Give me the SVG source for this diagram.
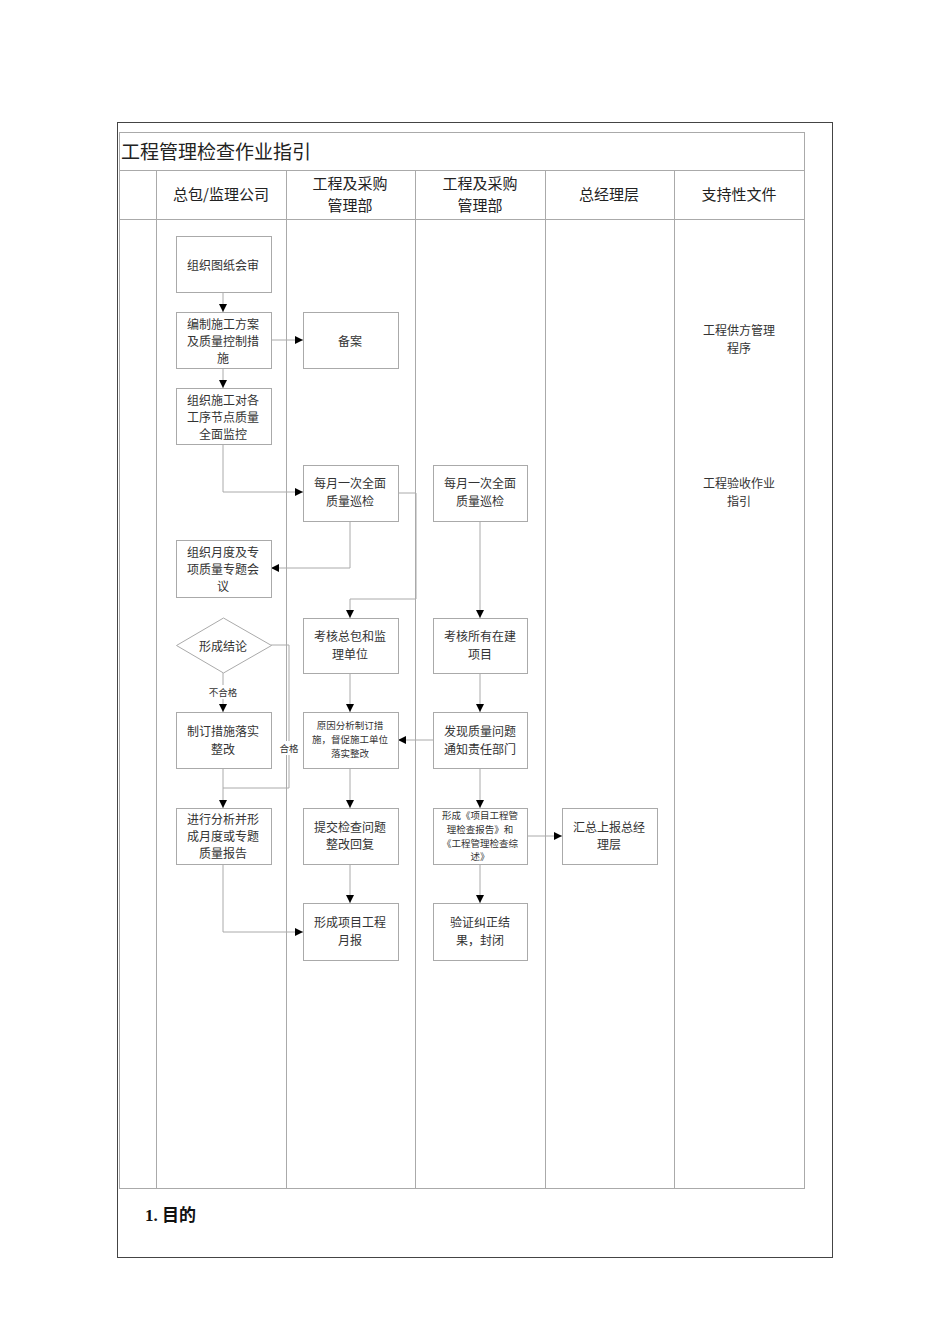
<svg xmlns="http://www.w3.org/2000/svg" width="950" height="1344" viewBox="0 0 950 1344">
<style>
.frame{fill:none;stroke:#444;stroke-width:1}
.grid{fill:none;stroke:#aaa;stroke-width:1}
.box{fill:#fff;stroke:#aaa;stroke-width:1}
.t{font-family:"Noto Sans CJK SC","Noto Sans",sans-serif;font-size:12px;fill:#333;text-anchor:middle;dominant-baseline:central}
.s{font-size:9.5px}
.h{font-family:"Noto Sans CJK SC","Noto Sans",sans-serif;font-size:15px;fill:#222;text-anchor:middle;dominant-baseline:central}
.c{fill:none;stroke:#aaa;stroke-width:1}
</style>
<defs>
<marker id="ah" viewBox="0 0 10 10" refX="10" refY="5" markerWidth="8" markerHeight="8" markerUnits="userSpaceOnUse" orient="auto">
<path d="M0,0 L10,5 L0,10 z" fill="#000"/>
</marker>
</defs>
<rect width="950" height="1344" fill="#fff"/>
<g id="table">
<rect class="frame" x="117.5" y="122.5" width="715" height="1135"/>
<rect class="grid" x="119.5" y="132.5" width="685" height="1056"/>
<line class="grid" x1="119.5" y1="170.5" x2="804.5" y2="170.5"/>
<line class="grid" x1="119.5" y1="219.5" x2="804.5" y2="219.5"/>
<line class="grid" x1="156.5" y1="170.5" x2="156.5" y2="1188.5"/>
<line class="grid" x1="286.5" y1="170.5" x2="286.5" y2="1188.5"/>
<line class="grid" x1="415.5" y1="170.5" x2="415.5" y2="1188.5"/>
<line class="grid" x1="545.5" y1="170.5" x2="545.5" y2="1188.5"/>
<line class="grid" x1="674.5" y1="170.5" x2="674.5" y2="1188.5"/>
<text x="121" y="150" style="font-family:'Noto Sans CJK SC',sans-serif;font-size:19px;fill:#222;dominant-baseline:central">工程管理检查作业指引</text>
<text class="h" x="221" y="193">总包/监理公司</text>
<text class="h" x="350" y="182">工程及采购</text>
<text class="h" x="350" y="204">管理部</text>
<text class="h" x="480" y="182">工程及采购</text>
<text class="h" x="480" y="204">管理部</text>
<text class="h" x="609" y="193">总经理层</text>
<text class="h" x="739" y="193">支持性文件</text>
<text x="145" y="1215" style="font-family:'Liberation Serif','Noto Sans CJK SC',serif;font-size:17px;font-weight:bold;fill:#111;dominant-baseline:central">1. 目的</text>
</g>
<g id="connectors">
<line class="c" x1="223" y1="292" x2="223" y2="312" marker-end="url(#ah)"/>
<line class="c" x1="223" y1="368" x2="223" y2="388" marker-end="url(#ah)"/>
<line class="c" x1="271" y1="340" x2="303" y2="340" marker-end="url(#ah)"/>
<polyline class="c" points="223,444 223,492 303,492" marker-end="url(#ah)"/>
<polyline class="c" points="350,521 350,568 271,568" marker-end="url(#ah)"/>
<polyline class="c" points="398,493 416,493 416,599 350,599 350,618" marker-end="url(#ah)"/>
<line class="c" x1="480" y1="521" x2="480" y2="618" marker-end="url(#ah)"/>
<line class="c" x1="223" y1="673" x2="223" y2="712" marker-end="url(#ah)"/>
<polyline class="c" points="271,645 289,645 289,788 223,788"/>
<line class="c" x1="223" y1="768" x2="223" y2="808" marker-end="url(#ah)"/>
<line class="c" x1="350" y1="673" x2="350" y2="712" marker-end="url(#ah)"/>
<line class="c" x1="480" y1="673" x2="480" y2="712" marker-end="url(#ah)"/>
<line class="c" x1="433" y1="740" x2="398" y2="740" marker-end="url(#ah)"/>
<line class="c" x1="350" y1="768" x2="350" y2="808" marker-end="url(#ah)"/>
<line class="c" x1="480" y1="768" x2="480" y2="808" marker-end="url(#ah)"/>
<line class="c" x1="527" y1="836" x2="562" y2="836" marker-end="url(#ah)"/>
<line class="c" x1="350" y1="864" x2="350" y2="903" marker-end="url(#ah)"/>
<line class="c" x1="480" y1="864" x2="480" y2="903" marker-end="url(#ah)"/>
<polyline class="c" points="223,864 223,932 303,932" marker-end="url(#ah)"/>
<rect x="278" y="741" width="22" height="14" fill="#fff"/>
<text class="t s" x="289" y="748">合格</text>
<rect x="205" y="685" width="36" height="14" fill="#fff"/>
<text class="t s" x="223" y="692">不合格</text>
</g>
<g id="n1"><rect class="box" x="176.5" y="236.5" width="95" height="56"/><text class="t" x="223" y="264">组织图纸会审</text></g>
<g id="n2"><rect class="box" x="176.5" y="312.5" width="95" height="56"/><text class="t" x="223" y="323">编制施工方案</text><text class="t" x="223" y="340">及质量控制措</text><text class="t" x="223" y="357">施</text></g>
<g id="n3"><rect class="box" x="176.5" y="388.5" width="95" height="56"/><text class="t" x="223" y="399">组织施工对各</text><text class="t" x="223" y="416">工序节点质量</text><text class="t" x="223" y="433">全面监控</text></g>
<g id="n4"><rect class="box" x="176.5" y="540.5" width="95" height="57"/><text class="t" x="223" y="551">组织月度及专</text><text class="t" x="223" y="568">项质量专题会</text><text class="t" x="223" y="585">议</text></g>
<g id="n5"><polygon class="box" points="223.5,618 271.5,645.5 223.5,673 176.5,645.5"/><text class="t" x="223" y="645">形成结论</text></g>
<g id="n6"><rect class="box" x="176.5" y="712.5" width="95" height="56"/><text class="t" x="223" y="730">制订措施落实</text><text class="t" x="223" y="748">整改</text></g>
<g id="n7"><rect class="box" x="176.5" y="808.5" width="95" height="56"/><text class="t" x="223" y="818">进行分析并形</text><text class="t" x="223" y="835">成月度或专题</text><text class="t" x="223" y="852">质量报告</text></g>
<g id="m1"><rect class="box" x="303.5" y="312.5" width="95" height="56"/><text class="t" x="350" y="340">备案</text></g>
<g id="m2"><rect class="box" x="303.5" y="465.5" width="95" height="56"/><text class="t" x="350" y="482">每月一次全面</text><text class="t" x="350" y="500">质量巡检</text></g>
<g id="m3"><rect class="box" x="303.5" y="618.5" width="95" height="55"/><text class="t" x="350" y="635">考核总包和监</text><text class="t" x="350" y="653">理单位</text></g>
<g id="m4"><rect class="box" x="303.5" y="712.5" width="95" height="56"/><text class="t s" x="350" y="725">原因分析制订措</text><text class="t s" x="350" y="739">施，督促施工单位</text><text class="t s" x="350" y="753">落实整改</text></g>
<g id="m5"><rect class="box" x="303.5" y="808.5" width="95" height="56"/><text class="t" x="350" y="826">提交检查问题</text><text class="t" x="350" y="843">整改回复</text></g>
<g id="m6"><rect class="box" x="303.5" y="903.5" width="95" height="57"/><text class="t" x="350" y="921">形成项目工程</text><text class="t" x="350" y="939">月报</text></g>
<g id="r1"><rect class="box" x="433.5" y="465.5" width="94" height="56"/><text class="t" x="480" y="482">每月一次全面</text><text class="t" x="480" y="500">质量巡检</text></g>
<g id="r2"><rect class="box" x="433.5" y="618.5" width="94" height="55"/><text class="t" x="480" y="635">考核所有在建</text><text class="t" x="480" y="653">项目</text></g>
<g id="r3"><rect class="box" x="433.5" y="712.5" width="94" height="56"/><text class="t" x="480" y="730">发现质量问题</text><text class="t" x="480" y="748">通知责任部门</text></g>
<g id="r4"><rect class="box" x="433.5" y="808.5" width="94" height="56"/><text class="t s" x="480" y="815">形成《项目工程管</text><text class="t s" x="480" y="829">理检查报告》和</text><text class="t s" x="480" y="843">《工程管理检查综</text><text class="t s" x="480" y="856">述》</text></g>
<g id="r5"><rect class="box" x="433.5" y="903.5" width="94" height="57"/><text class="t" x="480" y="921">验证纠正结</text><text class="t" x="480" y="939">果，封闭</text></g>
<g id="g1"><rect class="box" x="562.5" y="808.5" width="95" height="56"/><text class="t" x="609" y="826">汇总上报总经</text><text class="t" x="609" y="843">理层</text></g>
<g id="d1"><text class="t" x="739" y="329">工程供方管理</text><text class="t" x="739" y="347">程序</text></g>
<g id="d2"><text class="t" x="739" y="482">工程验收作业</text><text class="t" x="739" y="500">指引</text></g>
</svg>
